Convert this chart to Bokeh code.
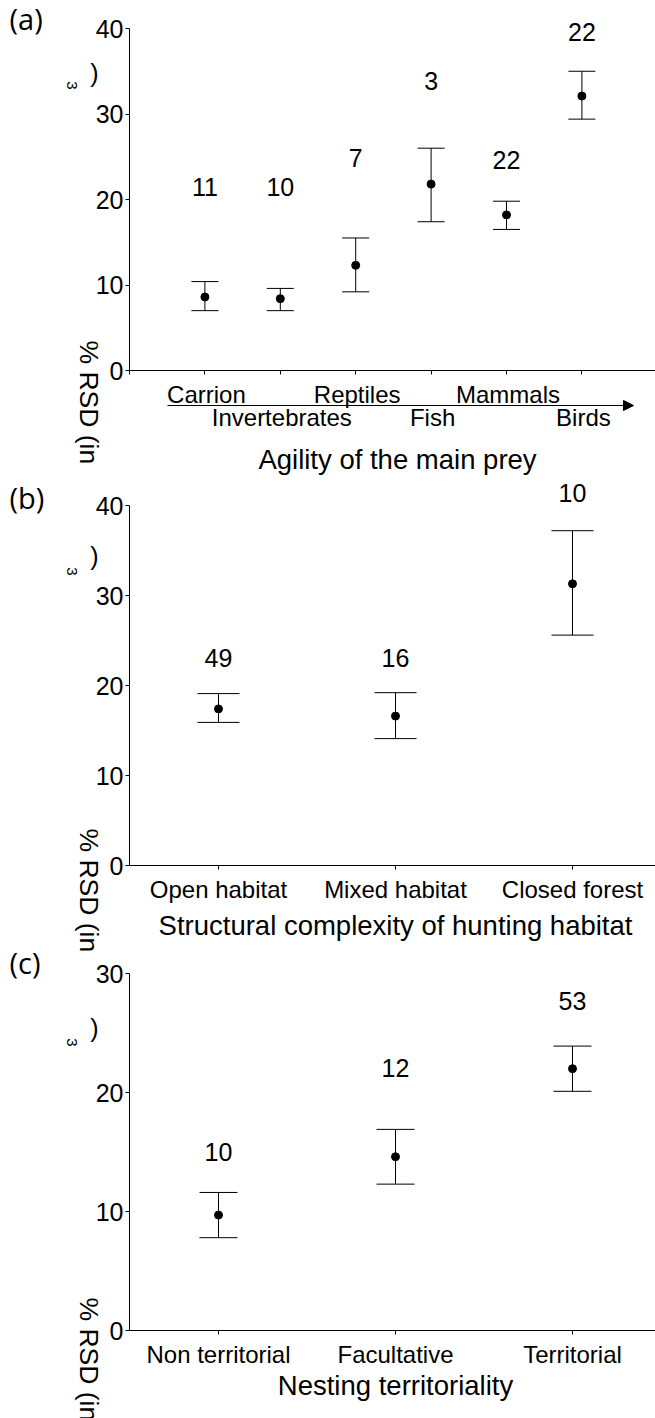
import math
from bokeh.plotting import figure
from bokeh.models import (ColumnDataSource, Whisker, TeeHead, Label, Arrow,
                          NormalHead, FixedTicker, LinearAxis, Range1d)
from bokeh.embed import file_html
from bokeh.resources import INLINE

FONT = "Liberation Sans"
PANEL_FONT = "Open Sans"
W, H = 655, 1418

# ------------------------------------------------------------------ data
prey_labels = ["Carrion", "Invertebrates", "Reptiles", "Fish", "Mammals", "Birds"]
prey_x = [1, 2, 3, 4, 5, 6]
prey_mean = [8.6, 8.4, 12.3, 21.8, 18.2, 32.1]
prey_lower = [7.0, 7.0, 9.2, 17.4, 16.5, 29.4]
prey_upper = [10.4, 9.6, 15.5, 26.0, 19.8, 35.0]
prey_n = ["11", "10", "7", "3", "22", "22"]
prey_n_height = [21.5, 21.5, 24.8, 33.9, 24.6, 39.6]
prey_ticks = [0, 1, 2, 3, 4, 5, 6]

habitat_labels = ["Open habitat", "Mixed habitat", "Closed forest"]
habitat_x = [1, 2, 3]
habitat_mean = [17.4, 16.6, 31.3]
habitat_lower = [15.9, 14.1, 25.6]
habitat_upper = [19.1, 19.2, 37.2]
habitat_n = ["49", "16", "10"]
habitat_n_height = [23.1, 23.1, 41.4]

terr_labels = ["Non territorial", "Facultative", "Territorial"]
terr_x = [1, 2, 3]
terr_mean = [9.7, 14.6, 22.0]
terr_lower = [7.8, 12.3, 20.1]
terr_upper = [11.6, 16.9, 23.9]
terr_n = ["10", "12", "53"]
terr_n_height = [15.0, 22.1, 27.7]

y_ticks_40 = [0, 10, 20, 30, 40]
y_ticks_30 = [0, 10, 20, 30]

# ------------------------------------------------------------------ layout (pixels)
AXIS_PX = 129
GEOM = {
    "a": dict(xa_px=129, xa_val=0.0, xppu=75.4, y0_px=370, yppu=342 / 40, ytop=40, cap=27),
    "b": dict(xa_px=218, xa_val=1.0, xppu=177.0, y0_px=865, yppu=360 / 40, ytop=40, cap=42),
    "c": dict(xa_px=218, xa_val=1.0, xppu=177.0, y0_px=1330, yppu=357 / 30, ytop=30, cap=38),
}


def xval(g, px):
    return g["xa_val"] + (px - g["xa_px"]) / g["xppu"]


def xpix(g, v):
    return g["xa_px"] + (v - g["xa_val"]) * g["xppu"]


def ranges(g):
    xr = Range1d(xval(g, 0), xval(g, W))
    yr = Range1d((g["y0_px"] - H) / g["yppu"], g["y0_px"] / g["yppu"])
    return xr, yr


xr_a, yr_a = ranges(GEOM["a"])
p = figure(width=W, height=H, x_range=xr_a, y_range=yr_a,
           x_axis_location=None, y_axis_location=None,
           output_backend="svg", toolbar_location=None, title=None,
           min_border=0, min_border_left=0, min_border_right=0,
           min_border_top=0, min_border_bottom=0)
p.outline_line_color = None
p.grid.visible = False
p.background_fill_color = "white"
p.border_fill_color = "white"

xr_b, yr_b = ranges(GEOM["b"])
xr_c, yr_c = ranges(GEOM["c"])
p.extra_x_ranges = {"b": xr_b, "c": xr_c, "px": Range1d(0, W)}
p.extra_y_ranges = {"b": yr_b, "c": yr_c, "px": Range1d(H, 0)}
RN = {"a": "default", "b": "b", "c": "c"}


def style_axis(ax, size="25px"):
    ax.axis_line_color = "black"
    ax.axis_line_width = 1
    ax.major_tick_line_color = "black"
    ax.major_tick_out = 4
    ax.major_tick_in = 0
    ax.minor_tick_line_color = None
    ax.major_label_text_font = FONT
    ax.major_label_text_font_size = size
    ax.major_label_text_color = "black"


def txt(px, py, text, size=24, align="center", angle=0.0, font=FONT):
    p.add_layout(Label(x=px, y=py, x_range_name="px", y_range_name="px", text=text,
                       text_font=font, text_font_size=f"{size}px", text_color="black",
                       text_align=align, text_baseline="middle", angle=angle))


def panel(key, x, mean, lower, upper, n, n_h, y_ticks, x_ticks, x_labels=None):
    g = GEOM[key]
    rn = RN[key]
    ya = LinearAxis(x_range_name=rn, y_range_name=rn, fixed_location=xval(g, AXIS_PX),
                    bounds=(0, g["ytop"]), ticker=FixedTicker(ticks=y_ticks))
    style_axis(ya)
    ya.major_label_standoff = 2
    p.add_layout(ya, "left")

    xa = LinearAxis(x_range_name=rn, y_range_name=rn, fixed_location=0,
                    bounds=(xval(g, AXIS_PX), xval(g, W)), ticker=FixedTicker(ticks=x_ticks))
    style_axis(xa, "24px")
    xa.major_label_standoff = 6
    if x_labels is None:
        xa.major_label_overrides = {t: "" for t in x_ticks}
    else:
        xa.major_label_overrides = {t: lab for t, lab in zip(x_ticks, x_labels)}
    p.add_layout(xa, "below")

    src = ColumnDataSource(dict(x=x, mean=mean, lower=lower, upper=upper))
    p.add_layout(Whisker(base="x", lower="lower", upper="upper", source=src,
                         x_range_name=rn, y_range_name=rn,
                         dimension="height", line_color="black", line_width=1,
                         upper_head=TeeHead(size=g["cap"], line_color="black", line_width=1),
                         lower_head=TeeHead(size=g["cap"], line_color="black", line_width=1)))
    p.scatter("x", "mean", source=src, size=8, color="black",
              x_range_name=rn, y_range_name=rn)
    for xi, lab, hy in zip(x, n, n_h):
        p.add_layout(Label(x=xi, y=hy, text=lab, x_range_name=rn, y_range_name=rn,
                           text_font=FONT, text_font_size="25px", text_color="black",
                           text_align="center", text_baseline="middle"))


TITLE_SIZE = 27.5
YLAB_SIZE = 26.5

# ---------------- panel (a)
ga = GEOM["a"]
panel("a", prey_x, prey_mean, prey_lower, prey_upper, prey_n, prey_n_height,
      y_ticks_40, prey_ticks)
for i, (lab, xv) in enumerate(zip(prey_labels, prey_x)):
    txt(xpix(ga, xv) + 1.5, 394 if i % 2 == 0 else 416.5, lab, 24)
p.add_layout(Arrow(x_start=167, y_start=405, x_end=633, y_end=405,
                   x_range_name="px", y_range_name="px",
                   line_color="black", line_width=1,
                   end=NormalHead(size=10, fill_color="black", line_color="black", line_width=1)))
txt(397, 458.5, "Agility of the main prey", TITLE_SIZE)
txt(9, 18, "(a)", 29, align="left", font=PANEL_FONT)
txt(88, 340, "% RSD (in", YLAB_SIZE, align="left", angle=-math.pi / 2)
txt(94, 72, ")", 25)
txt(71, 85, "3", 15, angle=-math.pi / 2)

# ---------------- panel (b)
panel("b", habitat_x, habitat_mean, habitat_lower, habitat_upper, habitat_n,
      habitat_n_height, y_ticks_40, habitat_x, x_labels=habitat_labels)
txt(395, 925, "Structural complexity of hunting habitat", TITLE_SIZE)
txt(9, 497, "(b)", 29, align="left", font=PANEL_FONT)
txt(88, 828, "% RSD (in", YLAB_SIZE, align="left", angle=-math.pi / 2)
txt(94, 555, ")", 25)
txt(71, 571, "3", 15, angle=-math.pi / 2)

# ---------------- panel (c)
panel("c", terr_x, terr_mean, terr_lower, terr_upper, terr_n, terr_n_height,
      y_ticks_30, terr_x, x_labels=terr_labels)
txt(395, 1385, "Nesting territoriality", TITLE_SIZE)
txt(9, 962, "(c)", 29, align="left", font=PANEL_FONT)
txt(88, 1297, "% RSD (in", YLAB_SIZE, align="left", angle=-math.pi / 2)
txt(94, 1027, ")", 25)
txt(71, 1042, "3", 15, angle=-math.pi / 2)

open("out.html", "w").write(file_html(p, INLINE))
